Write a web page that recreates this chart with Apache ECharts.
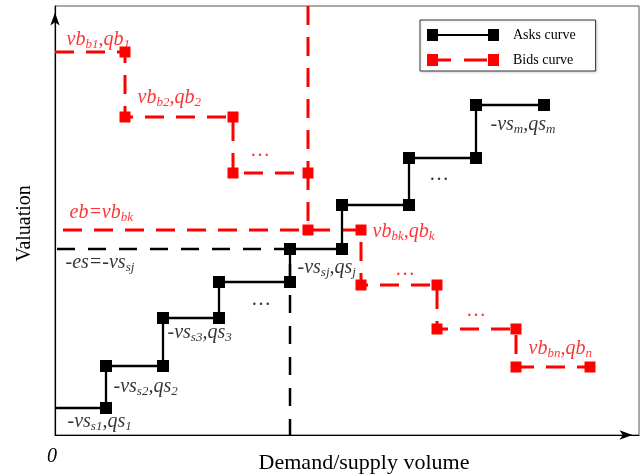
<!DOCTYPE html>
<html>
<head>
<meta charset="utf-8">
<script src="https://cdn.jsdelivr.net/npm/echarts@6/dist/echarts.min.js"></script>
<style>
  html, body { margin: 0; padding: 0; background: #fff; }
  #chart { width: 644px; height: 476px; }
</style>
</head>
<body>
<div id="chart"></div>
<script>
// step curves (x: volume, y: valuation)
var asksX = [0, 51, 51, 108, 108, 164, 164, 235, 235, 287, 287, 354, 354, 421, 421, 489]
var asksY = [27, 27, 69, 69, 117, 117, 153, 153, 186, 186, 230, 230, 277, 277, 330, 330]
var bidsX = [0, 70, 70, 178, 178, 253, 253, 306, 306, 382, 382, 461, 461, 535]
var bidsY = [383, 383, 318, 318, 262, 262, 205, 205, 150, 150, 106, 106, 68, 68]

// guide lines
var eqQX = [253, 253]
var eqQY = [429, 262]
var ebX = [8, 253]
var ebY = [205, 205]
var esX = [2, 235, 235]
var esY = [186, 186, 0]

// annotations: [x, y] of left/middle of text
var redLabelPos = [[11, 395], [82, 337], [196, 284], [14, 222], [317, 203], [341, 165], [412, 124], [473, 86]]
var redLabelText = [
  '{i|vb}{s|b1}{i|,qb}{s|1}',
  '{i|vb}{s|b2}{i|,qb}{s|2}',
  '{i|…}',
  '{i|eb=vb}{s|bk}',
  '{i|vb}{s|bk}{i|,qb}{s|k}',
  '{i|…}',
  '{i|…}',
  '{i|vb}{s|bn}{i|,qb}{s|n}'
]
var blackLabelPos = [[435, 310], [375, 260], [197, 135], [10, 172], [242, 167], [112, 102], [58, 48], [12, 13]]
var blackLabelText = [
  '{i|-vs}{s|m}{i|,qs}{s|m}',
  '{i|…}',
  '{i|…}',
  '{i|-es=-vs}{s|sj}',
  '{i|-vs}{s|sj}{i|,qs}{s|j}',
  '{i|-vs}{s|s3}{i|,qs}{s|3}',
  '{i|-vs}{s|s2}{i|,qs}{s|2}',
  '{i|-vs}{s|s1}{i|,qs}{s|1}'
]

var FONT = '"Liberation Serif", "Times New Roman", serif'

function zip(xs, ys) {
  var out = []
  for (var i = 0; i < xs.length; i++) out.push([xs[i], ys[i]])
  return out
}

function labelData(pos, text) {
  var out = []
  for (var i = 0; i < pos.length; i++) out.push({ value: pos[i], txt: text[i] })
  return out
}

var rich = {
  i: { fontFamily: FONT, fontStyle: 'italic', fontSize: 20 },
  s: { fontFamily: FONT, fontStyle: 'italic', fontSize: 13, padding: [9, 0, 0, 0] }
}

function labelSeries(name, data, color) {
  return {
    name: name,
    type: 'scatter',
    data: data,
    symbolSize: 1,
    silent: true,
    itemStyle: { color: 'rgba(0,0,0,0)' },
    label: {
      show: true,
      position: 'right',
      distance: 0,
      color: color,
      formatter: function (p) { return p.data.txt },
      rich: rich
    },
    z: 5
  }
}

// first point of each curve starts at the axis, no marker there
var asksData = zip(asksX, asksY).map(function (d, i) {
  return i === 0 ? { value: d, symbol: 'none' } : d
})
var bidsData = zip(bidsX, bidsY).map(function (d, i) {
  return i === 0 ? { value: d, symbol: 'none' } : d
})

var myChart = echarts.init(document.getElementById('chart'))
var option = {
  animation: false,
  grid: {
    left: 55, right: 5, top: 6, bottom: 41,
    outerBoundsMode: 'none',
    containLabel: false,
    show: true, borderColor: '#555', borderWidth: 1
  },
  legend: {
    orient: 'vertical',
    left: 420, top: 20,
    padding: [8, 20, 4, 7],
    itemGap: 11,
    itemWidth: 72,
    itemHeight: 12,
    borderColor: '#333',
    borderWidth: 1,
    backgroundColor: '#fff',
    shadowColor: 'rgba(0,0,0,0.15)',
    shadowBlur: 3,
    shadowOffsetX: 1,
    shadowOffsetY: 1,
    textStyle: { fontFamily: FONT, fontSize: 14, color: '#000', padding: [0, 0, 0, 9] },
    data: [
      { name: 'Asks curve', icon: 'path://M0,0h11v12H0z M11,5h50v2H11z M61,0h11v12H61z' },
      { name: 'Bids curve', icon: 'path://M0,0h11v12H0z M11,4.5h13v3H11z M37,4.5h23v3H37z M61,0h11v12H61z' }
    ]
  },
  xAxis: {
    type: 'value',
    min: 0, max: 584, interval: 584,
    name: 'Demand/supply volume',
    nameLocation: 'middle',
    nameGap: 17,
    nameMoveOverlap: false,
    nameTextStyle: { fontFamily: FONT, fontSize: 22, color: '#000', padding: [0, 0, 0, 34] },
    axisLine: {
      lineStyle: { color: '#000', width: 1.2 },
      symbol: ['none', 'arrow'],
      symbolSize: [7, 13],
      symbolOffset: [0, -6.5]
    },
    axisTick: { show: false },
    splitLine: { show: false },
    axisLabel: {
      margin: 12,
      fontFamily: FONT, fontStyle: 'italic', fontSize: 20, color: '#000',
      padding: [0, 6, 0, 0],
      formatter: function (v) { return v === 0 ? '0' : '' }
    }
  },
  yAxis: {
    type: 'value',
    min: 0, max: 429,
    name: 'Valuation',
    nameLocation: 'middle',
    nameGap: 20,
    nameMoveOverlap: false,
    nameTextStyle: { fontFamily: FONT, fontSize: 20, color: '#000', padding: [0, 6, 0, 0] },
    axisLine: {
      show: true,
      lineStyle: { color: '#000', width: 1.2 },
      symbol: ['none', 'arrow'],
      symbolSize: [7, 13],
      symbolOffset: [0, -6.5]
    },
    axisTick: { show: false },
    splitLine: { show: false },
    axisLabel: { show: false }
  },
  series: [
    {
      name: 'eq-q',
      type: 'line',
      data: zip(eqQX, eqQY),
      symbol: 'none',
      lineStyle: { color: '#ff0000', width: 3, type: [19, 12] },
      z: 2
    },
    {
      name: 'eb',
      type: 'line',
      data: zip(ebX, ebY),
      symbol: 'none',
      lineStyle: { color: '#ff0000', width: 3, type: [19, 12] },
      z: 2
    },
    {
      name: 'es',
      type: 'line',
      data: zip(esX, esY),
      symbol: 'none',
      lineStyle: { color: '#000', width: 2.5, type: [18, 13] },
      z: 2
    },
    {
      name: 'Bids curve',
      type: 'line',
      data: bidsData,
      symbol: 'rect',
      symbolSize: 11,
      showAllSymbol: true,
      itemStyle: { color: '#ff0000' },
      lineStyle: { color: '#ff0000', width: 3, type: [19, 12] },
      z: 3
    },
    {
      name: 'Asks curve',
      type: 'line',
      data: asksData,
      symbol: 'rect',
      symbolSize: 12,
      showAllSymbol: true,
      itemStyle: { color: '#000' },
      lineStyle: { color: '#000', width: 2.3 },
      z: 4
    },
    labelSeries('red labels', labelData(redLabelPos, redLabelText), '#ff0000'),
    labelSeries('black labels', labelData(blackLabelPos, blackLabelText), '#000')
  ]
}
myChart.setOption(option)
myChart.resize()
</script>
</body>
</html>
